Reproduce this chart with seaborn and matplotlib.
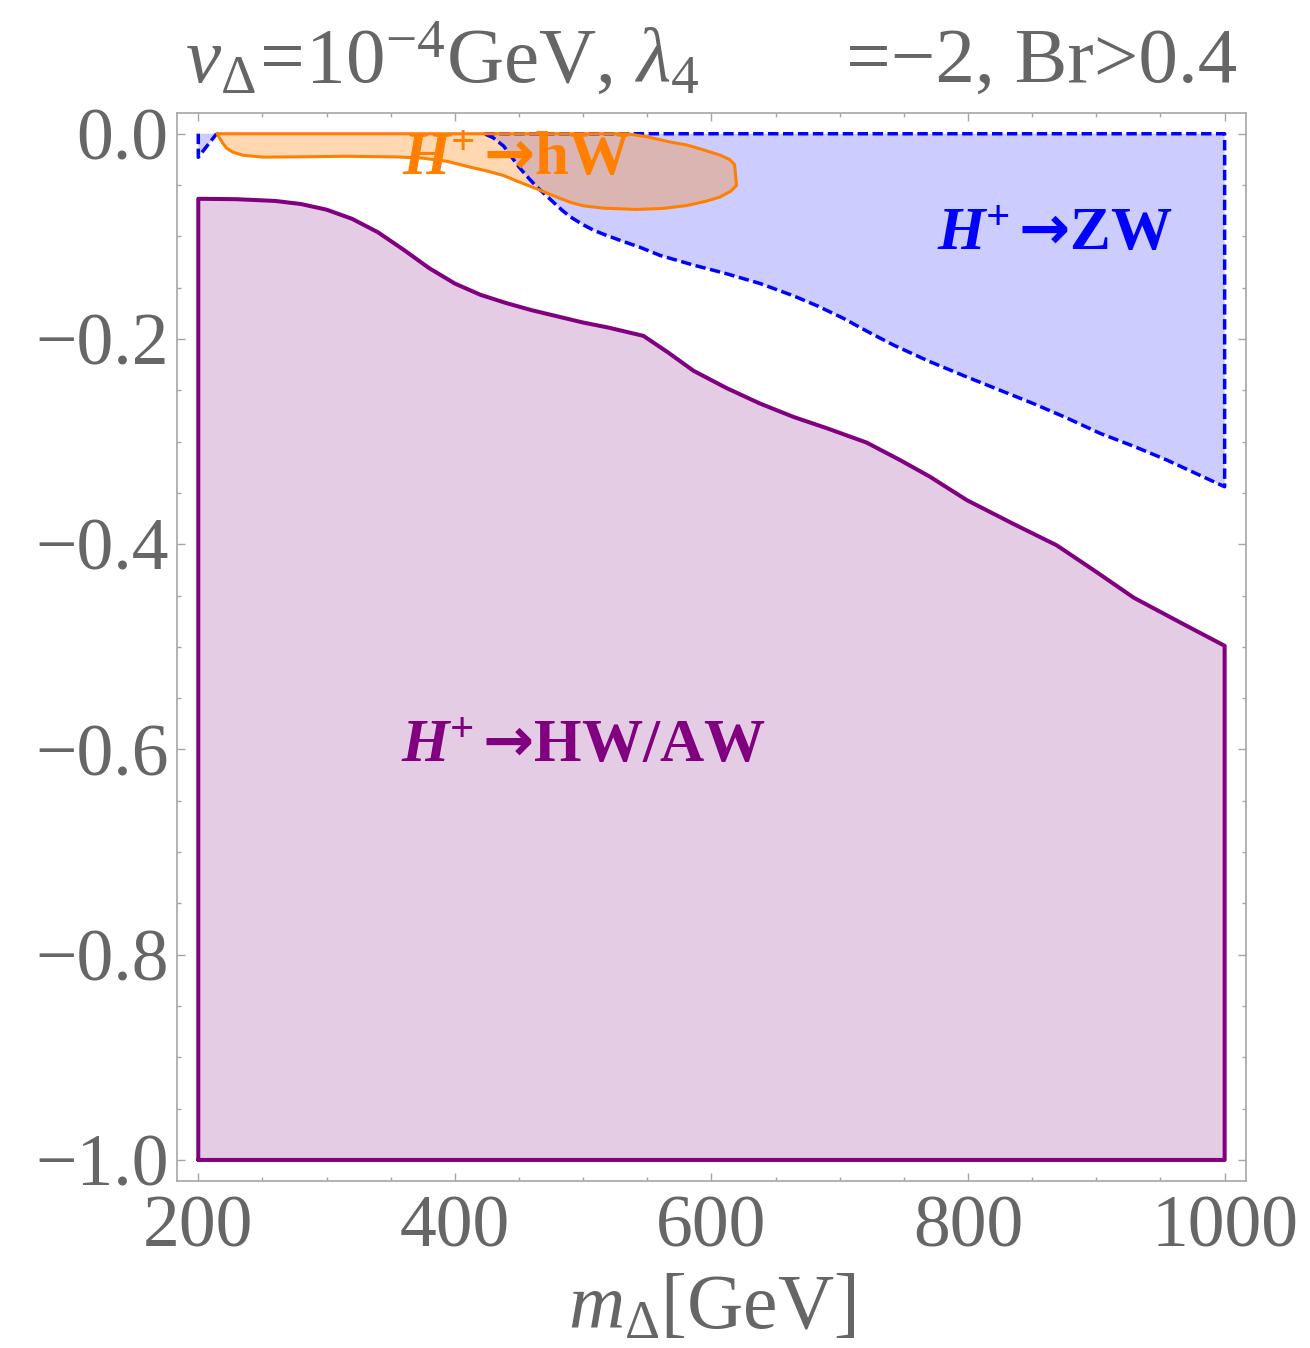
import numpy as np
import pandas as pd
import matplotlib
matplotlib.use("Agg")
import matplotlib.pyplot as plt
from matplotlib.ticker import MultipleLocator, FuncFormatter
import seaborn as sns

# Region boundaries in the (m_Delta [GeV], parameter) plane
hw_aw_m = [200, 200, 230, 260, 280, 300, 320, 340, 360, 380, 400, 420, 440, 460,
           480, 500, 520, 547, 566, 586, 612, 638, 664, 690, 721, 747, 770,
           799, 835, 869, 900, 929, 965, 1000, 1000, 200]
hw_aw_y = [-1.0, -0.0634, -0.0638, -0.0655, -0.0685, -0.074, -0.083, -0.096, -0.113,
           -0.131, -0.146, -0.157, -0.165, -0.172, -0.178, -0.184, -0.189, -0.197,
           -0.213, -0.231, -0.248, -0.263, -0.276, -0.287, -0.301, -0.318,
           -0.334, -0.357, -0.380, -0.401, -0.427, -0.452, -0.476, -0.499, -1.0, -1.0]

zw_m = [423, 1000, 1000, 955, 930, 903, 877, 851, 825, 799, 770, 742, 722, 703,
        683, 664, 638, 612, 586, 560, 545, 529, 518, 508, 499, 490, 484, 477, 471,
        464, 458, 451, 445, 438, 430, 423]
zw_y = [0.0, 0.0, -0.344, -0.318, -0.305, -0.292, -0.277, -0.263, -0.250, -0.237,
        -0.222, -0.206, -0.193, -0.180, -0.168, -0.158, -0.146, -0.1365, -0.128,
        -0.1186, -0.111, -0.104, -0.099, -0.094, -0.088, -0.081, -0.075, -0.067,
        -0.060, -0.052, -0.044, -0.034, -0.024, -0.012, -0.004, 0.0]

zw_small_m = [200, 200, 203, 208, 214.3, 200]
zw_small_y = [0.0, -0.023, -0.018, -0.010, 0.0, 0.0]

hw_m = [214.8, 534, 550, 567.5, 581, 593.5, 607, 614, 618, 619.5, 615, 606.5, 595,
        580.6, 562, 541.6, 515.6, 500, 489.6, 476, 463.7, 450, 437.7, 424, 411.7,
        393.6, 375, 354.6, 315.6, 280, 250.6, 235, 227, 222, 219, 216.5, 214.8]
hw_y = [0.0, 0.0, -0.003, -0.008, -0.011, -0.0156, -0.021, -0.025, -0.030, -0.0504,
        -0.056, -0.0618, -0.066, -0.070, -0.0728, -0.0738, -0.0725, -0.0702, -0.0667,
        -0.060, -0.0536, -0.047, -0.0406, -0.036, -0.0325, -0.0268, -0.0238, -0.0226,
        -0.022, -0.0225, -0.0228, -0.021, -0.018, -0.014, -0.009, -0.004, 0.0]

x_ticks = [200, 400, 600, 800, 1000]
y_ticks = [0.0, -0.2, -0.4, -0.6, -0.8, -1.0]

PURPLE = (0.5, 0.0, 0.5)
BLUE = (0.0, 0.0, 1.0)
ORANGE = (1.0, 0.5, 0.0)
GRAY_TXT = "#666666"
GRAY_FRAME = "#a6a6a6"

sns.set_theme(style="ticks")
plt.rcParams["font.family"] = ["Liberation Serif", "DejaVu Serif"]
plt.rcParams["mathtext.fontset"] = "custom"
plt.rcParams["mathtext.rm"] = "Liberation Serif"
plt.rcParams["mathtext.it"] = "Liberation Serif:italic"
plt.rcParams["mathtext.bf"] = "Liberation Serif:bold"
plt.rcParams["mathtext.bfit"] = "Liberation Serif:italic:bold"
plt.rcParams["mathtext.sf"] = "DejaVu Sans:bold"

fig = plt.figure(figsize=(13.10, 13.48), dpi=100)
ax = fig.add_axes([0.1351, 0.1239, 0.9511 - 0.1351, 0.9164 - 0.1239])

# Fills
ax.fill(hw_aw_m, hw_aw_y, color=PURPLE, alpha=0.2, lw=0, zorder=1)
ax.fill(zw_m, zw_y, color=BLUE, alpha=0.2, lw=0, zorder=1)
ax.fill(zw_small_m, zw_small_y, color=BLUE, alpha=0.2, lw=0, zorder=1)
ax.fill(hw_m, hw_y, color=ORANGE, alpha=0.3, lw=0, zorder=2)

# Boundaries
def outline(m, y, **kw):
    df = pd.DataFrame({"m": m, "y": y})
    sns.lineplot(data=df, x="m", y="y", sort=False, estimator=None, ax=ax, **kw)

dash = (0, (3.0, 1.3))
outline(hw_aw_m, hw_aw_y, color=PURPLE, lw=2.9, zorder=3)
outline(zw_m, zw_y, color=BLUE, lw=2.5, zorder=3, linestyle=dash)
outline(zw_small_m[:-1], zw_small_y[:-1], color=BLUE, lw=2.5, zorder=3, linestyle=dash)
outline(hw_m, hw_y, color=ORANGE, lw=2.2, zorder=4)

# Region labels
lab_fs = 44
def region_label(x, y, products, color):
    s = r"$\mathbfit{H}^{\mathbf{+}}\,\mathsf{→}\mathbf{" + products + "}$"
    ax.text(x, y, s, color=color, fontsize=lab_fs, ha="center", va="center", zorder=6)

region_label(500, -0.598, "HW/AW", PURPLE)
region_label(868, -0.099, "ZW", BLUE)
region_label(448, -0.026, "hW", ORANGE)

# Axes
ax.set_xlim(183.4, 1016.6)
ax.set_ylim(-1.0205, 0.0205)
ax.set_xticks(x_ticks)
ax.set_yticks(y_ticks)
ax.xaxis.set_minor_locator(MultipleLocator(50))
ax.yaxis.set_minor_locator(MultipleLocator(0.05))
ax.xaxis.set_major_formatter(FuncFormatter(lambda v, p: f"{v:.0f}"))
ax.yaxis.set_major_formatter(FuncFormatter(lambda v, p: f"{v:.1f}".replace("-", "\u2212")))
ax.tick_params(which="both", direction="in", top=True, right=True,
               color=GRAY_FRAME, width=1.0, labelcolor=GRAY_TXT, labelsize=53)
ax.tick_params(which="major", length=5.5, pad=6)
ax.tick_params(which="minor", length=3.0)
ax.tick_params(axis="x", which="major", pad=10)
for s in ax.spines.values():
    s.set_color(GRAY_FRAME)
    s.set_linewidth(1.2)

ax.set_xlabel(r"$m_\Delta[\mathrm{GeV}]$", fontsize=56, color=GRAY_TXT, labelpad=8)
ax.set_ylabel("")

# Title in two pieces
fig.text(185 / 1310, 1 - 82 / 1348, r"$v_\Delta\!=\!10^{-4}\mathrm{GeV},\,\lambda_4$",
         fontsize=57, color=GRAY_TXT, ha="left", va="baseline")
fig.text(1237 / 1310, 1 - 82 / 1348, "=\u22122, Br>0.4",
         fontsize=57, color=GRAY_TXT, ha="right", va="baseline")

fig.savefig("out.png", dpi=100)
